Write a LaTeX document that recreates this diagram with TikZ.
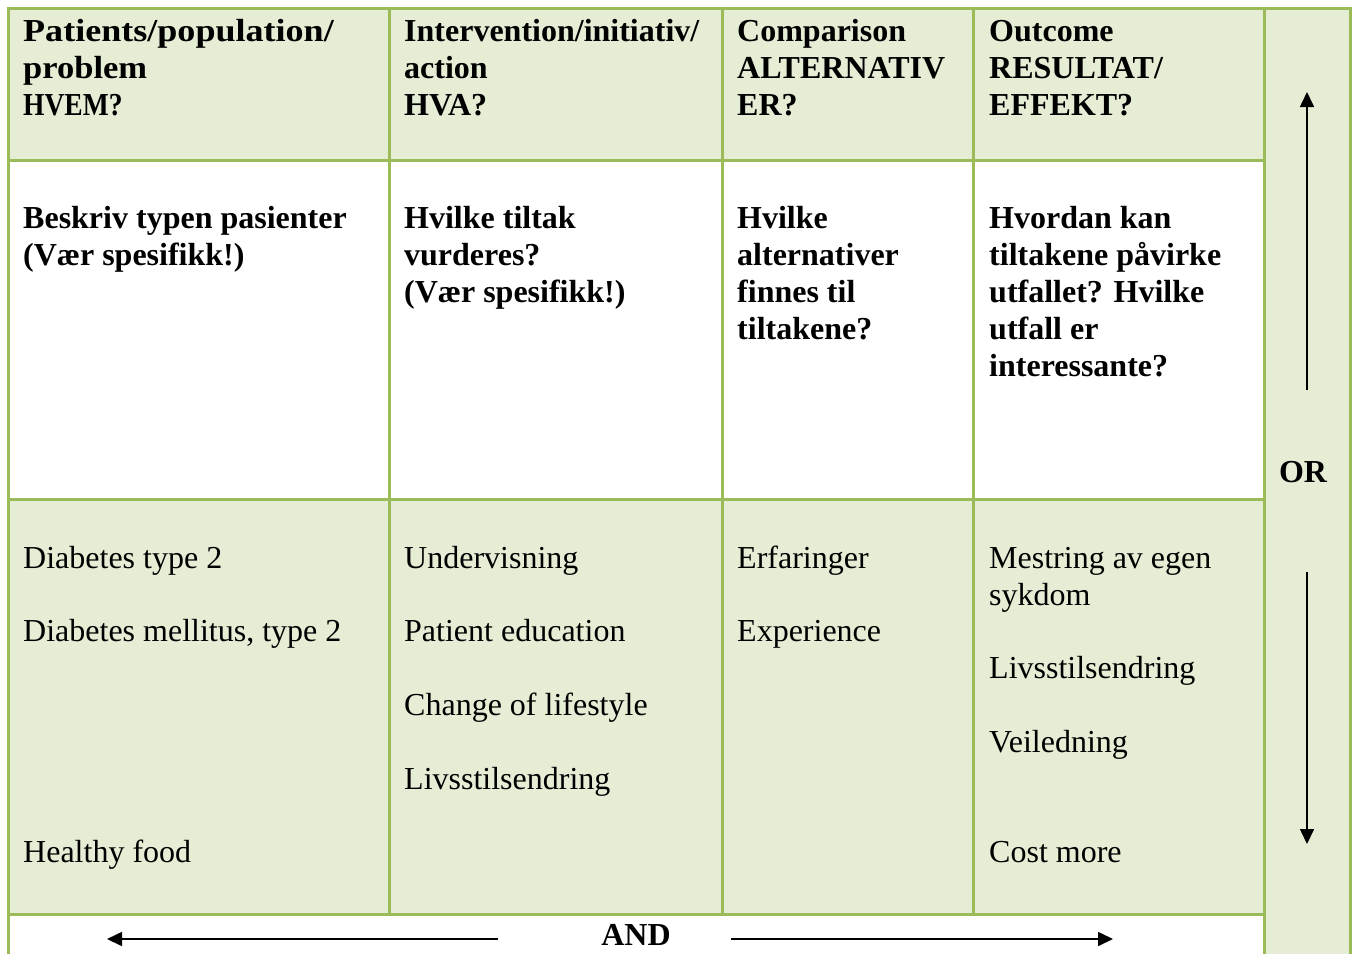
\documentclass[tikz,border=0pt]{standalone}
\usepackage{graphicx}
\usepackage{fontspec}
\setmainfont{Liberation Serif}
\usetikzlibrary{arrows.meta}
\definecolor{gline}{HTML}{9BBB59}
\definecolor{gfill}{HTML}{E5EDD5}
\begin{document}
\begin{tikzpicture}[x=1pt,y=-1pt,
  txt/.style={anchor=base west,inner sep=0pt,font=\fontsize{32}{37}\selectfont},
  btxt/.style={anchor=base west,inner sep=0pt,font=\fontsize{32}{37}\selectfont\bfseries},
  lbl/.style={anchor=base,inner sep=0pt,font=\fontsize{32}{37}\selectfont\bfseries},
  gridline/.style={draw=gline,line width=3pt},
  arr/.style={-{Triangle[length=15pt,width=14pt]},line width=1.6pt}]
\useasboundingbox (0,0) rectangle (1353,954);
\fill[white] (0,0) rectangle (1353,954);
% fills
\fill[gfill] (8,8) rectangle (1264,160);
\fill[gfill] (8,499) rectangle (1264,914);
\fill[gfill] (1264,8) rectangle (1350,954);
% grid
\draw[gridline] (8,954) -- (8,8) -- (1350,8) -- (1350,954);
\draw[gridline] (1264,8) -- (1264,954);
\draw[gridline] (8,160) -- (1264,160);
\draw[gridline] (8,499) -- (1264,499);
\draw[gridline] (8,914) -- (1264,914);
\draw[gridline] (389,8) -- (389,914);
\draw[gridline] (722,8) -- (722,914);
\draw[gridline] (973,8) -- (973,914);

% header row
\node[btxt] (h1a) at (23,41) {\scalebox{1.127}[1]{Patients/population/}};
\node[btxt] (h1b) at (23,78) {\scalebox{1.078}[1]{problem}};
\node[btxt] (h1c) at (23,115) {\scalebox{0.86}[1]{HVEM?}};
\node[btxt] (h2a) at (404,41) {Intervention/initiativ/};
\node[btxt] (h2b) at (404,78) {action};
\node[btxt] (h2c) at (404,115) {HVA?};
\node[btxt] (h3a) at (737,41) {Comparison};
\node[btxt] (h3b) at (737,78) {ALTERNATIV};
\node[btxt] (h3c) at (737,115) {ER?};
\node[btxt] (h4a) at (989,41) {Outcome};
\node[btxt] (h4b) at (989,78) {RESULTAT/};
\node[btxt] (h4c) at (989,115) {EFFEKT?};

% second row
\node[btxt] (q1a) at (23,228) {Beskriv typen pasienter};
\node[btxt] (q1b) at (23,265) {(Vær spesifikk!)};
\node[btxt] (q2a) at (404,228) {Hvilke tiltak};
\node[btxt] (q2b) at (404,265) {vurderes?};
\node[btxt] (q2c) at (404,302) {(Vær spesifikk!)};
\node[btxt] (q3a) at (737,228) {Hvilke};
\node[btxt] (q3b) at (737,265) {alternativer};
\node[btxt] (q3c) at (737,302) {finnes til};
\node[btxt] (q3d) at (737,339) {tiltakene?};
\node[btxt] (q4a) at (989,228) {Hvordan kan};
\node[btxt] (q4b) at (989,265) {tiltakene påvirke};
\node[btxt] (q4c) at (989,302) {utfallet? Hvilke};
\node[btxt] (q4d) at (989,339) {utfall er};
\node[btxt] (q4e) at (989,376) {interessante?};

% third row
\node[txt] (a1a) at (23,568) {Diabetes type 2};
\node[txt] (a1b) at (23,641) {Diabetes mellitus, type 2};
\node[txt] (a1c) at (23,862) {Healthy food};
\node[txt] (a2a) at (404,568) {Undervisning};
\node[txt] (a2b) at (404,641) {Patient education};
\node[txt] (a2c) at (404,715) {Change of lifestyle};
\node[txt] (a2d) at (404,789) {Livsstilsendring};
\node[txt] (a3a) at (737,568) {Erfaringer};
\node[txt] (a3b) at (737,641) {Experience};
\node[txt] (a4a) at (989,568) {Mestring av egen};
\node[txt] (a4b) at (989,605) {sykdom};
\node[txt] (a4c) at (989,678) {Livsstilsendring};
\node[txt] (a4d) at (989,752) {Veiledning};
\node[txt] (a4e) at (989,862) {Cost more};

% OR / AND
\node[lbl] (or) at (1303,482) {OR};
\node[lbl] (and) at (636,945) {AND};
\coordinate (upS) at (1307,390);
\coordinate (upE) at (1307,92);
\coordinate (dnS) at (1307,572);
\coordinate (dnE) at (1307,844);
\coordinate (lS) at (498,939);
\coordinate (lE) at (107,939);
\coordinate (rS) at (731,939);
\coordinate (rE) at (1113,939);
\draw[arr] (upS) -- (upE);
\draw[arr] (dnS) -- (dnE);
\draw[arr] (lS) -- (lE);
\draw[arr] (rS) -- (rE);
\end{tikzpicture}
\end{document}
